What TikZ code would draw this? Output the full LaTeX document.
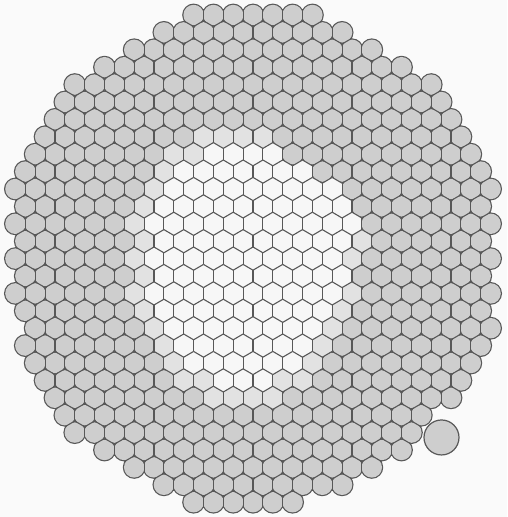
\documentclass[tikz,border=0pt]{standalone}
\usepackage{tikz}
\definecolor{ink}{RGB}{88,88,88}
\definecolor{paper}{RGB}{250,250,250}
\definecolor{cellgray}{RGB}{206,206,206}
\definecolor{cellpale}{RGB}{226,226,226}
\definecolor{cellwhite}{RGB}{247,247,247}
% row / first col / last col / next row first / next row last
\def\cells{0/-6/6/-9/9, 1/-9/9/-12/12, 2/-12/12/-15/15, 3/-15/15/-18/18,
  4/-18/18/-19/19, 5/-19/19/-20/20, 6/-20/20/-21/21, 7/-21/21/-22/22,
  8/-22/22/-23/23, 9/-23/23/-24/24, 10/-24/24/-23/23, 11/-23/23/-24/24,
  12/-24/24/-23/23, 13/-23/23/-24/24, 14/-24/24/-23/23, 15/-23/23/-24/24,
  16/-24/24/-23/23, 17/-23/23/-22/24, 18/-22/24/-23/23, 19/-23/23/-22/22,
  20/-22/22/-21/21, 21/-21/21/-20/20, 22/-20/20/-19/17, 23/-19/17/-18/16,
  24/-18/16/-15/15, 25/-15/15/-12/12, 26/-12/12/-9/9, 27/-9/9/-6/4,
  28/-6/4/99/-99}
\def\paleband{7/-5/1, 8/-8/2, 9/-9/5, 10/-10/8, 11/-11/9, 12/-12/10,
  13/-11/11, 14/-12/10, 15/-11/9, 16/-12/10, 17/-11/9, 18/-10/8,
  19/-9/7, 20/-8/6, 21/-7/5, 22/-4/2}
\def\clearband{8/-4/2, 9/-7/5, 10/-8/8, 11/-9/9, 12/-10/10, 13/-9/9,
  14/-10/8, 15/-9/9, 16/-10/8, 17/-9/7, 18/-8/6, 19/-7/5, 20/-6/4,
  21/-3/1}
\newcommand\hexcell[3]{%
  \fill[#1] ({#2+1},{#3-1/3}) -- (#2,{#3-2/3}) -- ({#2-1},{#3-1/3})
    -- ({#2-1},{#3+1/3}) -- (#2,{#3+2/3}) -- ({#2+1},{#3+1/3}) -- cycle;}

\begin{document}
\begin{tikzpicture}[
  x=9.9pt, y=-17.4pt,
  rim/.style={draw=ink, line width=2.4pt},
  body/.style={fill=cellgray},
  pale/.style={fill=cellpale},
  clear/.style={fill=cellwhite},
  wall/.style={draw=ink, line width=1.1pt},
  bulb/.style={draw=ink, fill=cellgray, line width=1.2pt}]
  \fill[paper] (-25.556,-0.862) rectangle (25.657,28.851);
  \useasboundingbox (-25.556,-0.862) rectangle (25.657,28.851);

  \foreach \r/\lo/\hi/\nlo/\nhi in \cells {
    \pgfmathtruncatemacro\lotwo{\lo+2}
    \foreach \c in {\lo,\lotwo,...,\hi}
      \draw[rim] (\c,\r) circle[radius=10.2pt];
  }
  \foreach \r/\lo/\hi/\nlo/\nhi in \cells {
    \pgfmathtruncatemacro\lotwo{\lo+2}
    \foreach \c in {\lo,\lotwo,...,\hi}
      \fill[body] (\c,\r) circle[radius=10.2pt];
  }

  \foreach \r/\lo/\hi in \paleband {
    \pgfmathtruncatemacro\lotwo{\lo+2}
    \foreach \c in {\lo,\lotwo,...,\hi} {\hexcell{pale}{\c}{\r}}
  }
  \foreach \r/\lo/\hi in \clearband {
    \pgfmathtruncatemacro\lotwo{\lo+2}
    \foreach \c in {\lo,\lotwo,...,\hi} {\hexcell{clear}{\c}{\r}}
  }

  \foreach \r/\lo/\hi/\nlo/\nhi in \cells {
    \pgfmathtruncatemacro\lotwo{\lo+2}
    \foreach \c in {\lo,\lotwo,...,\hi} {
      \pgfmathtruncatemacro\se{\c+1}
      \pgfmathtruncatemacro\sw{\c-1}
      \ifnum\c<\hi\relax
        \draw[wall] ({\c+1},{\r-1/3}) -- ({\c+1},{\r+1/3});
      \fi
      \ifnum\se<\nlo\relax\else\ifnum\se>\nhi\relax\else
        \draw[wall] ({\c+1},{\r+1/3}) -- (\c,{\r+2/3});
      \fi\fi
      \ifnum\sw<\nlo\relax\else\ifnum\sw>\nhi\relax\else
        \draw[wall] (\c,{\r+2/3}) -- ({\c-1},{\r+1/3});
      \fi\fi
    }
  }

  \draw[bulb] (19.04,24.28) circle[radius=17.5pt];
\end{tikzpicture}
\end{document}
